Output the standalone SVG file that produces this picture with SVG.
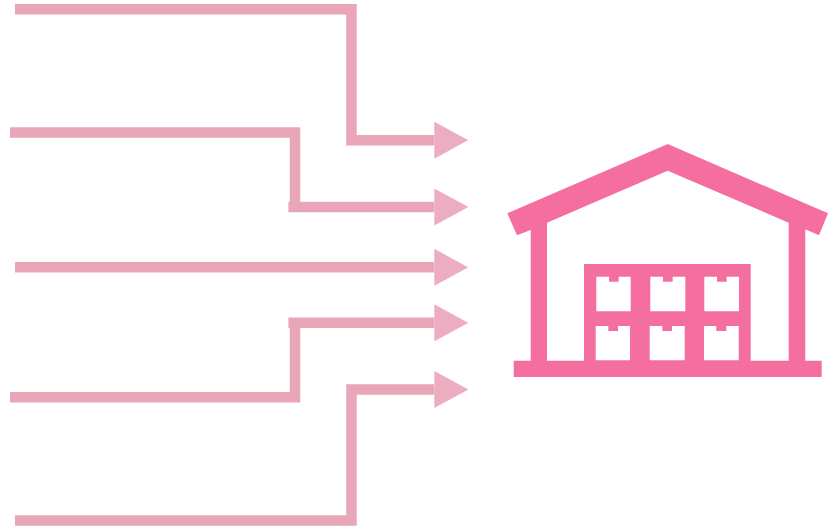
<svg xmlns="http://www.w3.org/2000/svg" width="837" height="526" viewBox="0 0 837 526">
  <style>
    .line { fill: none; stroke: #e9a6b8; stroke-width: 10.5; stroke-linejoin: miter; }
    .icon { fill: #f46fa0; }
    .box { fill: #ffffff; }
  </style>
  <defs>
    <marker id="head" markerUnits="userSpaceOnUse" markerWidth="34" markerHeight="37" viewBox="0 0 34 37" refX="0" refY="18.5" orient="auto">
      <path d="M0 0L34 18.5L0 37Z" fill="#ecadc1"/>
    </marker>
  </defs>
  <rect width="837" height="526" fill="#ffffff"/>
  <g id="connectors">
    <path class="line" marker-end="url(#head)" d="M15 9.2H351.5V140.2H434.3"/>
    <path class="line" marker-end="url(#head)" d="M10 132.4H295V207H288.4H434.3"/>
    <path class="line" marker-end="url(#head)" d="M15 267.3H434.3"/>
    <path class="line" marker-end="url(#head)" d="M10 397.3H295V322.8H288.4H434.3"/>
    <path class="line" marker-end="url(#head)" d="M15 520.5H351.5V389.5H434.3"/>
  </g>
  <g id="warehouse">
    <path class="icon" d="M667.7 144L828 213.3L819 235.3L805.3 229.3V360.7H821.7V377H513.7V360.7H530.7V230L517 235.3L507.3 213.3ZM667.7 170.7L547 222.7V360.7H584V264H750.7V360.7H788.7V222.7Z" fill-rule="evenodd"/>
    <g class="box">
      <path d="M596.3 276.7H609V281.7H618.7V276.7H630.7V311.3H596.3Z"/>
      <path d="M650.3 276.7H663V281.7H672.7V276.7H685.3V311.3H650.3Z"/>
      <path d="M704.3 276.7H717V281.7H726.7V276.7H739V311.3H704.3Z"/>
      <path d="M595.7 326H608.3V331H618V326H630V360.3H595.7Z"/>
      <path d="M649.7 326H662.3V331H672V326H684.7V360.3H649.7Z"/>
      <path d="M704 326H716.3V331H726.3V326H738.7V360.3H704Z"/>
    </g>
  </g>
</svg>
